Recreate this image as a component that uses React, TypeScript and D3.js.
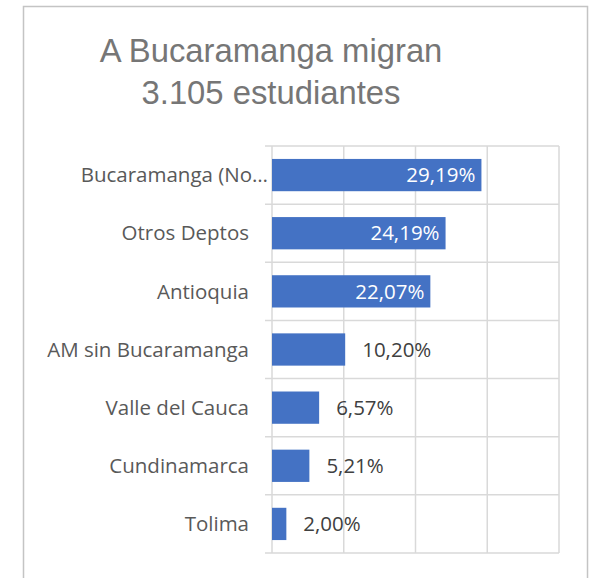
import { useMemo } from "react"
import * as d3 from "d3"

const categories = [
  "Bucaramanga (No…",
  "Otros Deptos",
  "Antioquia",
  "AM sin Bucaramanga",
  "Valle del Cauca",
  "Cundinamarca",
  "Tolima",
]
const values = [29.19, 24.19, 22.07, 10.2, 6.57, 5.21, 2.0]
const xTicks = [0, 10, 20, 30, 40]
const titleLines = ["A Bucaramanga migran", "3.105 estudiantes"]

const width = 590
const height = 578
const margin = { top: 146, right: 30, bottom: 25, left: 272 }

const fmt = (v: number) => d3.format(".2f")(v).replace(".", ",") + "%"

const App = () => {
  const x = useMemo(
    () => d3.scaleLinear().domain([0, 40]).range([margin.left, width - margin.right - 1]),
    []
  )
  const y = useMemo(
    () =>
      d3
        .scaleBand<string>()
        .domain(categories)
        .range([margin.top, height - margin.bottom])
        .paddingInner(0.445)
        .paddingOuter(0.2225),
    []
  )
  const step = y.step()
  const boundaries = d3.range(categories.length + 1).map((i) => margin.top + i * step)
  const labelFont = "'Open Sans', 'Noto Sans', sans-serif"

  return (
    <svg
      width={width}
      height={height}
      style={{ position: "absolute", left: 0, top: 0, background: "#fff" }}
    >
      {/* chart frame */}
      <rect x={23.5} y={6.5} width={564} height={620} fill="#fff" stroke="#c4c4c4" strokeWidth={1.5} />

      {/* title */}
      <g fill="#767676" fontFamily="'Liberation Sans', Arial, sans-serif" fontSize={32.8} textAnchor="middle">
        {titleLines.map((t, i) => (
          <text key={t} x={271} y={62 + i * 42}>
            {t}
          </text>
        ))}
      </g>

      {/* gridlines and category boundaries */}
      <g stroke="#d9d9d9" strokeWidth={1.5}>
        {xTicks.map((t) => (
          <line key={t} x1={x(t)} x2={x(t)} y1={boundaries[0]} y2={boundaries[boundaries.length - 1]} />
        ))}
        {boundaries.map((b, i) => (
          <line key={"b" + i} x1={margin.left - 7} x2={x(40)} y1={b} y2={b} />
        ))}
      </g>

      {/* bars */}
      <g fill="#4472c4">
        {categories.map((c, i) => (
          <rect key={c} x={x(0)} y={y(c)} width={x(values[i]) - x(0)} height={y.bandwidth()} />
        ))}
      </g>

      {/* category labels */}
      <g fill="#595959" fontFamily={labelFont} fontSize={20.5} textAnchor="end">
        {categories.map((c, i) => (
          <text key={c} x={i === 0 ? margin.left - 4 : margin.left - 23} y={(y(c) ?? 0) + y.bandwidth() / 2} dy="0.35em">
            {c}
          </text>
        ))}
      </g>

      {/* data labels */}
      <g fontFamily={labelFont} fontSize={20.5}>
        {categories.map((c, i) => {
          const inside = values[i] > 20
          return (
            <text
              key={c}
              x={inside ? x(values[i]) - 6 : x(values[i]) + 17}
              y={(y(c) ?? 0) + y.bandwidth() / 2}
              dy="0.35em"
              textAnchor={inside ? "end" : "start"}
              fill={inside ? "#fff" : "#404040"}
            >
              {fmt(values[i])}
            </text>
          )
        })}
      </g>
    </svg>
  )
}

export default App
